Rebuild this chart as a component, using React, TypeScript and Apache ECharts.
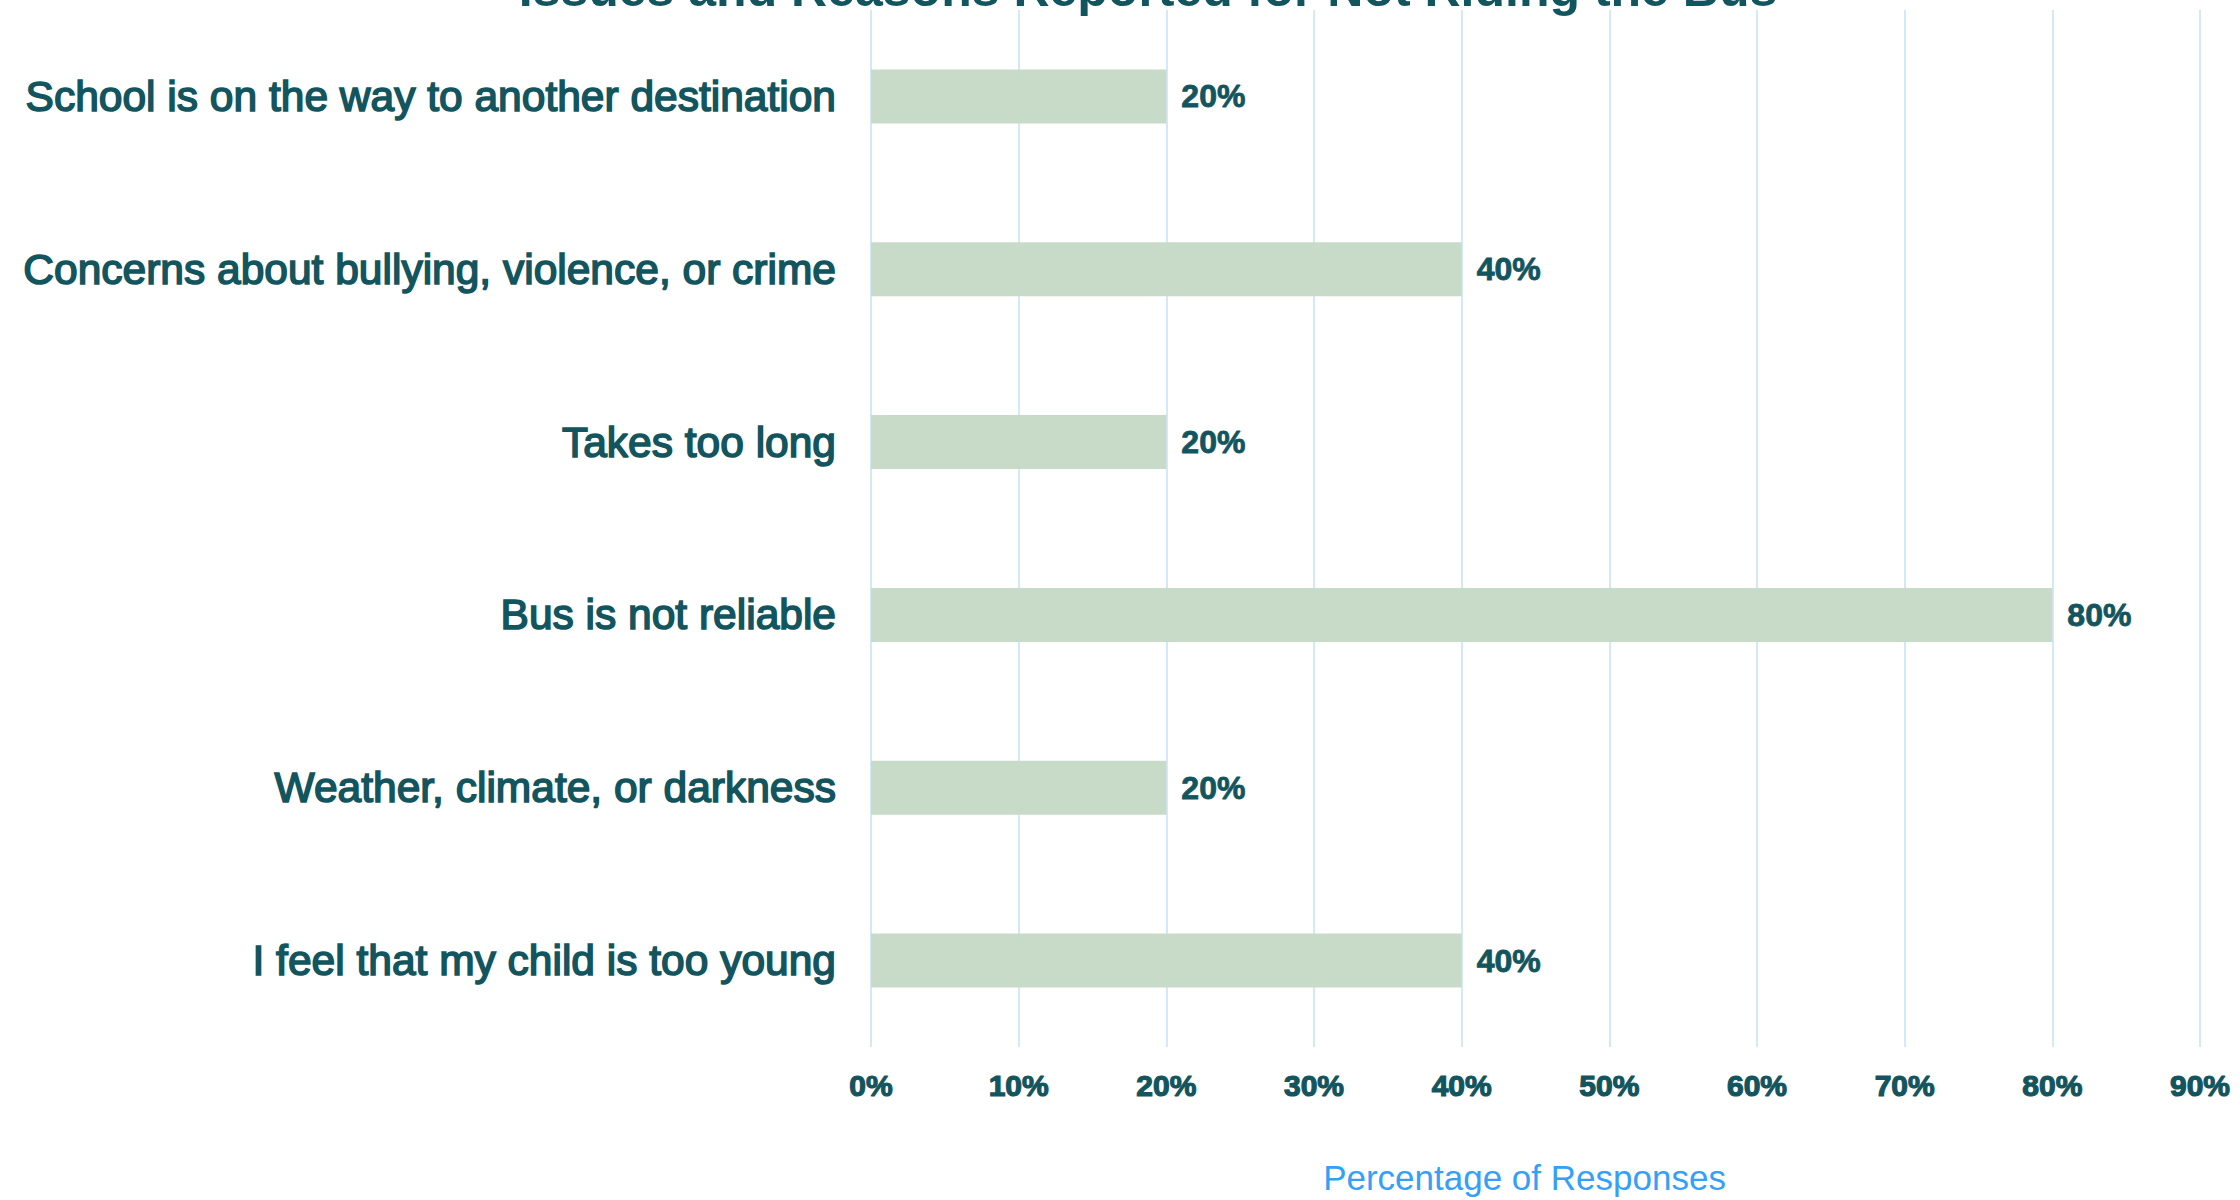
import React, { useEffect, useRef } from "react";
import * as echarts from "echarts";

const titleText = "Issues and Reasons Reported for Not Riding the Bus";
const categories = [
  "School is on the way to another destination",
  "Concerns about bullying, violence, or crime",
  "Takes too long",
  "Bus is not reliable",
  "Weather, climate, or darkness",
  "I feel that my child is too young",
];
const values = [20, 40, 20, 80, 20, 40];
const xAxisName = "Percentage of Responses";
const xMin = 0;
const xMax = 90;
const xInterval = 10;

const TEAL = "#13555e";

export default function App() {
  const ref = useRef<HTMLDivElement>(null);
  useEffect(() => {
    if (!ref.current) return;
    const chart = echarts.init(ref.current, null, { renderer: "svg" });
    chart.setOption({
      animation: false,
      backgroundColor: "#ffffff",
      graphic: [
        {
          type: "text",
          x: 1148,
          y: 14,
          style: {
            text: titleText,
            font: "bold 50px 'Liberation Sans', Arial, sans-serif",
            fill: TEAL,
            align: "center",
            verticalAlign: "bottom",
          },
        },
      ],
      grid: { left: 871, right: 40, top: 10, bottom: 151 },
      xAxis: {
        type: "value",
        min: xMin,
        max: xMax,
        interval: xInterval,
        name: xAxisName,
        nameLocation: "middle",
        nameGap: 113,
        nameTextStyle: {
          fontFamily: "'Liberation Sans', Arial, sans-serif",
          fontSize: 35,
          color: "#35a0f5",
          padding: [0, 22, 0, 0],
        },
        axisLine: { show: false },
        axisTick: { show: false },
        axisLabel: {
          formatter: "{value}%",
          fontFamily: "'Liberation Sans', Arial, sans-serif",
          fontWeight: "bold",
          fontSize: 30,
          color: TEAL,
          margin: 23,
          textBorderColor: TEAL,
          textBorderWidth: 1.2,
        },
        splitLine: { show: true, lineStyle: { color: "#d3e8f8", width: 2 } },
      },
      yAxis: {
        type: "category",
        data: categories,
        inverse: true,
        axisLine: { show: false },
        axisTick: { show: false },
        splitLine: { show: false },
        axisLabel: {
          fontFamily: "'Liberation Sans', Arial, sans-serif",
          fontSize: 42.5,
          color: TEAL,
          margin: 35,
          textBorderColor: TEAL,
          textBorderWidth: 1.6,
        },
      },
      series: [
        {
          type: "bar",
          data: values,
          barWidth: 54,
          itemStyle: { color: "#c8dbc8" },
          label: {
            show: true,
            position: "right",
            distance: 15,
            formatter: "{c}%",
            fontFamily: "'Liberation Sans', Arial, sans-serif",
            fontWeight: "bold",
            fontSize: 32,
            color: TEAL,
            textBorderColor: TEAL,
            textBorderWidth: 0.8,
          },
        },
      ],
    });
    return () => chart.dispose();
  }, []);
  return (
    <div
      ref={ref}
      style={{ position: "fixed", left: 0, top: 0, width: 2240, height: 1200 }}
    />
  );
}
